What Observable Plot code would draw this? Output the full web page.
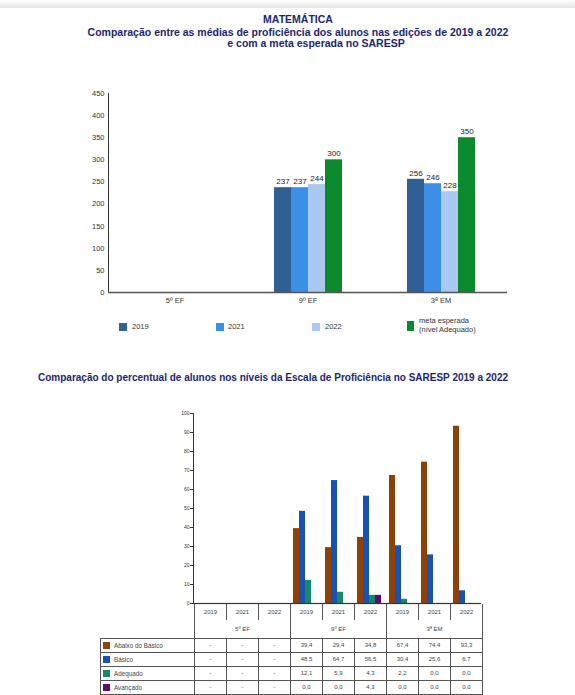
<!DOCTYPE html>
<html><head><meta charset="utf-8">
<script src="https://cdn.jsdelivr.net/npm/d3@7"></script>
<script src="https://cdn.jsdelivr.net/npm/@observablehq/plot@0.6"></script>
<style>
body{margin:0;background:#fff;font-family:"Liberation Sans",Arial,sans-serif;}
#page{position:relative;width:575px;height:695px;overflow:hidden;background:#fff;}
.t{position:absolute;font-weight:bold;color:#1c2670;white-space:nowrap;text-align:center;line-height:12px;}
.topline{position:absolute;left:0;top:0;width:575px;height:8px;background:linear-gradient(#fff,#e4e4e4);}
.leg{position:absolute;font-size:7.5px;color:#333;line-height:9px;}
.sq{position:absolute;}
#tbl{position:absolute;left:100px;top:604px;border-collapse:collapse;table-layout:fixed;font-size:6px;color:#444;}
#tbl td{padding:0;text-align:center;overflow:hidden;white-space:nowrap;}
#tbl td.v{border:1px solid #555;}
#tbl td.lab{border:1px solid #555;text-align:left;padding-left:2px;font-size:6.3px;}
#tbl td.yr{border-left:1px solid #555;border-right:1px solid #555;}
#tbl td.gr{border-left:1px solid #555;border-right:1px solid #555;}
.box{display:inline-block;width:7px;height:7px;margin-right:4px;vertical-align:-1px;}
</style></head><body><div id="page">
<div class="topline"></div>
<div class="t" style="left:0;width:596px;top:13px;font-size:10.5px;">MATEMÁTICA</div>
<div class="t" style="left:0;width:596px;top:26px;font-size:10.5px;">Comparação entre as médias de proficiência dos alunos nas edições de 2019 a 2022</div>
<div class="t" style="left:0;width:632px;top:37px;font-size:10.5px;">e com a meta esperada no SARESP</div>
<div class="t" style="left:0;width:546px;top:372px;font-size:10px;">Comparação do percentual de alunos nos níveis da Escala de Proficiência no SARESP 2019 a 2022</div>
</div>
<script>
// ---------- Chart 1 data ----------
const grades = ["5º EF", "9º EF", "3ª EM"];
const seriesNames = ["2019", "2021", "2022", "meta esperada"];
const seriesLegend = ["2019", "2021", "2022", "meta esperada<br>(nível Adequado)"];
const v2019 = [null, 237, 256];
const v2021 = [null, 237, 246];
const v2022 = [null, 244, 228];
const vMeta = [null, 300, 350];
const yTicks1 = [0, 50, 100, 150, 200, 250, 300, 350, 400, 450];
const seriesColors = ["#2f5f94", "#3c8fe6", "#aac9f1", "#0a8a2c"];

// ---------- Chart 2 data ----------
const stages = ["5º EF", "9º EF", "3ª EM"];
const editionYears = ["2019", "2021", "2022"];
const levels = ["Abaixo do Básico", "Básico", "Adequado", "Avançado"];
const abaixo   = [null, null, null, 39.4, 29.4, 34.8, 67.4, 74.4, 93.3];
const basico   = [null, null, null, 48.5, 64.7, 56.5, 30.4, 25.6, 6.7];
const adequado = [null, null, null, 12.1, 5.9, 4.3, 2.2, 0.0, 0.0];
const avancado = [null, null, null, 0.0, 0.0, 4.3, 0.0, 0.0, 0.0];
const yTicks2 = [0, 10, 20, 30, 40, 50, 60, 70, 80, 90, 100];
const levelColors = ["#8e4208", "#1a52b2", "#15896a", "#5a0b78"];

const page = document.getElementById("page");

// ---------- Chart 1 ----------
const seriesValues = [v2019, v2021, v2022, vMeta];
const rows1 = [];
grades.forEach((g, i) => seriesNames.forEach((s, j) => {
  const v = seriesValues[j][i];
  if (v != null) rows1.push({grade: g, series: s, value: v});
}));

const chart1 = Plot.plot({
  width: 575, height: 230,
  marginLeft: 108, marginRight: 68, marginTop: 13, marginBottom: 18,
  style: {fontFamily: "Liberation Sans, Arial, sans-serif", fontSize: "7.5px", color: "#333", background: "transparent"},
  fx: {domain: grades, padding: 0, label: null, axis: "bottom", tickSize: 0, tickPadding: 5},
  x: {domain: seriesNames, paddingInner: 0, paddingOuter: 1.855, axis: null},
  y: {domain: [0, 450], ticks: yTicks1, tickSize: 0, tickPadding: 4, label: null, line: true},
  color: {domain: seriesNames, range: seriesColors},
  marks: [
    Plot.barY(rows1, {fx: "grade", x: "series", y: "value", fill: "series"}),
    Plot.text(rows1, {fx: "grade", x: "series", y: "value", text: d => String(d.value), dy: -6, fontSize: 8, fill: "#222"}),
    Plot.ruleY(grades, {fx: d => d, y: () => 0, stroke: "#555", strokeWidth: 1.5})
  ]
});
chart1.style.position = "absolute";
chart1.style.left = "0px";
chart1.style.top = "80px";
page.appendChild(chart1);

// legend 1
const legX = [119, 216, 312, 407];
const legTextX = [132, 228, 325, 419];
seriesNames.forEach((s, j) => {
  const sq = document.createElement("div");
  sq.className = "sq";
  const big = j === 3;
  sq.style.cssText = `left:${legX[j]}px;top:${big ? 321 : 323}px;width:${big ? 7 : 8}px;height:${big ? 10 : 8}px;background:${seriesColors[j]};`;
  page.appendChild(sq);
  const tx = document.createElement("div");
  tx.className = "leg";
  tx.style.left = legTextX[j] + "px";
  tx.style.top = (big ? 316 : 322) + "px";
  tx.innerHTML = seriesLegend[j];
  page.appendChild(tx);
});

// ---------- Chart 2 ----------
const columns = stages.flatMap(s => editionYears.map(y => s + " " + y));
const levelValues = [abaixo, basico, adequado, avancado];
const rows2 = [];
columns.forEach((c, k) => levels.forEach((l, j) => {
  const v = levelValues[j][k];
  if (v != null) rows2.push({col: c, level: l, value: v});
}));

const chart2 = Plot.plot({
  width: 330, height: 210,
  marginLeft: 33, marginRight: 9, marginTop: 13, marginBottom: 7,
  style: {fontFamily: "Liberation Sans, Arial, sans-serif", fontSize: "5px", color: "#333", background: "transparent"},
  fx: {domain: columns, padding: 0, axis: null},
  x: {domain: levels, paddingInner: 0, paddingOuter: 0.286, axis: null},
  y: {domain: [0, 100], ticks: yTicks2, tickSize: 3, tickPadding: 1, label: null, line: true},
  color: {domain: levels, range: levelColors},
  marks: [
    Plot.barY(rows2, {fx: "col", x: "level", y: "value", fill: "level"}),
    Plot.ruleY(columns, {fx: d => d, y: () => 0, stroke: "#333", strokeWidth: 1.2})
  ]
});
chart2.style.position = "absolute";
chart2.style.left = "160px";
chart2.style.top = "400px";
page.appendChild(chart2);

// ---------- Table ----------
const fmt = v => v == null ? "-" : v.toFixed(1).replace(".", ",");
const tbl = document.createElement("table");
tbl.id = "tbl";
let html = '<colgroup><col style="width:94px">' + columns.map(() => '<col style="width:32px">').join("") + '</colgroup>';
html += '<tr style="height:16px"><td></td>' + columns.map((c, k) => `<td class="yr">${editionYears[k % 3]}</td>`).join("") + '</tr>';
html += '<tr style="height:18px"><td></td>' + stages.map(s => `<td class="gr" colspan="3">${s}</td>`).join("") + '</tr>';
levels.forEach((l, j) => {
  html += `<tr style="height:14px"><td class="lab"><span class="box" style="background:${levelColors[j]}"></span>${l}</td>` +
    levelValues[j].map(v => `<td class="v">${fmt(v)}</td>`).join("") + '</tr>';
});
tbl.innerHTML = html;
page.appendChild(tbl);
</script>
</body></html>
